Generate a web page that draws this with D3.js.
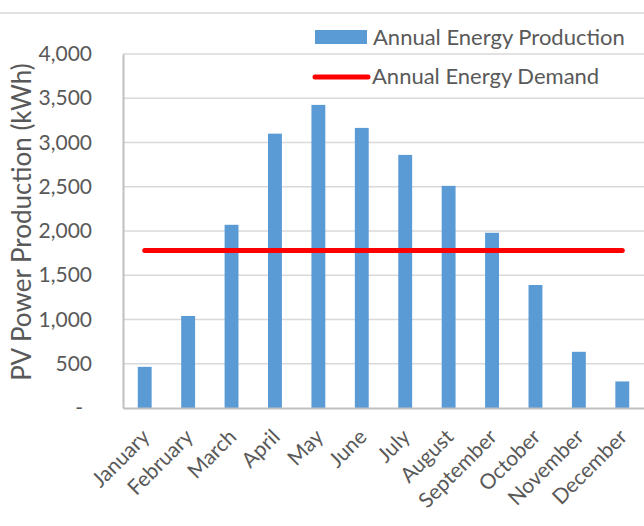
<!DOCTYPE html>
<html><head><meta charset="utf-8">
<script src="https://cdn.jsdelivr.net/npm/d3@7"></script>
<style>body{margin:0;background:#fff}svg{display:block}text{font-family:Lato,"Liberation Sans",Arial,sans-serif;fill:#595959}</style>
</head><body><svg id="c" width="644" height="526"></svg>
<script>
const months = ["January","February","March","April","May","June","July","August","September","October","November","December"];
const production = [465, 1040, 2070, 3100, 3425, 3165, 2860, 2510, 1980, 1390, 635, 300];
const demand = [1780,1780,1780,1780,1780,1780,1780,1780,1780,1780,1780,1780];
const yTicks = [0,500,1000,1500,2000,2500,3000,3500,4000];
const seriesNames = ["Annual Energy Production","Annual Energy Demand"];

const svg = d3.select("#c");
const m = {l:123, r:644, t:54, b:408};
const x = d3.scaleBand().domain(months).range([m.l, m.r]).paddingInner(0.68).paddingOuter(0.34);
const y = d3.scaleLinear().domain([0,4000]).range([m.b, m.t]);
const fmt = d => d === 0 ? "-" : d3.format(",")(d);

// top border
svg.append("line").attr("x1",0).attr("x2",644).attr("y1",13).attr("y2",13).attr("stroke","#d9d9d9").attr("stroke-width",1.5);

// gridlines
svg.append("g").selectAll("line").data(yTicks.filter(d=>d>0)).join("line")
  .attr("x1",m.l).attr("x2",m.r).attr("y1",d=>y(d)).attr("y2",d=>y(d))
  .attr("stroke","#d9d9d9").attr("stroke-width",1.3);

// y axis
const ya = svg.append("g").attr("transform",`translate(${m.l},0)`)
  .call(d3.axisLeft(y).tickValues(yTicks).tickFormat(fmt).tickSize(0).tickPadding(31));
ya.select(".domain").attr("stroke","#bfbfbf").attr("stroke-width",2);
ya.selectAll("text").style("font-size","21px").attr("fill","#595959")
  .attr("dx", d => d===0 ? -9 : 0);

// bars
svg.append("g").selectAll("rect").data(production).join("rect")
  .attr("x",(d,i)=>x(months[i])).attr("width",x.bandwidth())
  .attr("y",d=>y(d)).attr("height",d=>y(0)-y(d))
  .attr("fill","#5b9bd5");

// x axis
const xa = svg.append("g").attr("transform",`translate(0,${m.b})`)
  .call(d3.axisBottom(x).tickSize(0).tickPadding(0));
xa.select(".domain").attr("stroke","#bfbfbf").attr("stroke-width",2);
xa.selectAll("text").style("font-size","21px").attr("fill","#595959")
  .attr("text-anchor","end").attr("dy","0.35em")
  .attr("transform","translate(1,25) rotate(-45)");

// demand line
const line = d3.line().x((d,i)=>x(months[i])+x.bandwidth()/2).y(d=>y(d));
svg.append("path").datum(demand).attr("d",line).attr("fill","none")
  .attr("stroke","#ff0000").attr("stroke-width",5).attr("stroke-linecap","round");

// y title
svg.append("text").attr("transform","translate(22,222) rotate(-90)")
  .attr("text-anchor","middle").attr("dy","0.35em").style("font-size","26px").text("PV Power Production (kWh)");

// legend
const lg = svg.append("g");
lg.append("rect").attr("x",315).attr("y",30).attr("width",52).attr("height",14).attr("fill","#5b9bd5");
lg.append("text").attr("x",373).attr("y",37).attr("dy","0.35em").style("font-size","22px").text(seriesNames[0]);
lg.append("line").attr("x1",315).attr("x2",368).attr("y1",77).attr("y2",77)
  .attr("stroke","#ff0000").attr("stroke-width",5).attr("stroke-linecap","round");
lg.append("text").attr("x",372).attr("y",76).attr("dy","0.35em").style("font-size","22px").text(seriesNames[1]);
</script></body></html>
